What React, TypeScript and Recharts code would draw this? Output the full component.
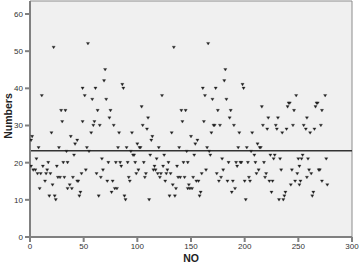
import React from "react";
import { ScatterChart, Scatter, XAxis, YAxis, ReferenceLine, ReferenceArea } from "recharts";

const noValues: number[] = [
  1, 1, 2, 3, 5, 6, 7, 8, 9, 10, 11, 12, 14, 15, 16, 17, 18, 19, 20, 21,
  22, 23, 24, 25, 26, 27, 28, 29, 30, 31, 32, 33, 34, 35, 35, 37, 38, 39, 40, 41,
  42, 44, 44, 45, 46, 47, 48, 49, 49, 51, 52, 53, 54, 55, 57, 58, 59, 60, 61, 62,
  63, 64, 65, 66, 67, 68, 69, 70, 71, 72, 73, 74, 75, 76, 77, 78, 79, 80, 81, 82,
  83, 84, 85, 86, 87, 88, 89, 90, 91, 92, 93, 94, 95, 96, 97, 98, 99, 100, 101, 102,
  103, 104, 105, 106, 107, 108, 109, 110, 111, 112, 113, 114, 115, 116, 117, 118, 119, 120, 121, 122,
  123, 124, 125, 126, 127, 128, 129, 130, 131, 132, 133, 134, 135, 136, 137, 138, 139, 140, 141, 142,
  143, 144, 145, 146, 147, 147, 148, 149, 150, 151, 152, 153, 154, 155, 156, 157, 158, 159, 160, 161,
  162, 163, 164, 165, 166, 167, 168, 169, 170, 171, 172, 173, 174, 175, 176, 177, 178, 179, 180, 181,
  182, 183, 184, 185, 186, 187, 188, 189, 190, 191, 192, 193, 194, 195, 196, 197, 198, 199, 200, 201,
  202, 203, 204, 205, 206, 207, 209, 210, 211, 212, 213, 214, 215, 216, 217, 218, 219, 220, 221, 222,
  223, 224, 225, 226, 227, 228, 229, 230, 231, 232, 233, 234, 235, 236, 237, 238, 239, 240, 241, 242,
  243, 244, 245, 246, 247, 248, 249, 250, 251, 251, 252, 253, 254, 255, 257, 258, 258, 259, 260, 261,
  262, 263, 264, 265, 266, 267, 268, 269, 270, 271, 272, 272, 275, 276, 277,
];

const numberValues: number[] = [
  26, 19, 27, 18, 18, 21, 17, 24, 13, 17, 38, 19, 15, 17, 18, 20, 11, 17, 28, 14,
  51, 11, 10, 19, 16, 24, 16, 34, 31, 20, 16, 34, 23, 20, 13, 14, 27, 13, 16, 22,
  25, 26, 15, 15, 11, 12, 17, 40, 31, 38, 18, 24, 52, 23, 28, 37, 30, 31, 40, 17,
  34, 11, 30, 16, 21, 18, 42, 45, 37, 15, 20, 32, 34, 12, 15, 30, 13, 20, 13, 24,
  28, 20, 19, 41, 40, 11, 10, 24, 20, 16, 15, 23, 28, 22, 22, 20, 17, 25, 18, 24,
  24, 35, 30, 20, 16, 17, 29, 32, 10, 22, 26, 27, 18, 19, 18, 21, 17, 24, 16, 17,
  38, 19, 22, 15, 17, 18, 20, 11, 17, 28, 14, 51, 11, 13, 19, 16, 24, 16, 34, 31,
  20, 16, 34, 23, 20, 13, 14, 13, 27, 13, 16, 22, 25, 15, 26, 15, 11, 12, 17, 40,
  31, 38, 18, 24, 52, 23, 22, 28, 37, 30, 30, 40, 17, 34, 15, 30, 16, 21, 18, 42,
  45, 37, 15, 20, 32, 34, 12, 15, 30, 13, 20, 19, 24, 28, 20, 20, 41, 40, 15, 10,
  24, 20, 16, 15, 23, 28, 22, 20, 17, 25, 18, 24, 24, 35, 30, 20, 16, 17, 29, 32,
  15, 22, 12, 15, 21, 22, 30, 29, 32, 10, 21, 18, 28, 10, 11, 12, 29, 35, 36, 36,
  14, 18, 30, 34, 15, 38, 17, 21, 14, 19, 15, 21, 22, 30, 29, 32, 16, 21, 18, 28,
  17, 11, 12, 29, 35, 36, 36, 18, 18, 30, 34, 15, 38, 21, 14,
];

const meanValue = 23.2;
const xTicks = [0, 50, 100, 150, 200, 250, 300];
const yTicks = [0, 10, 20, 30, 40, 50, 60];

const data = noValues.map((no, i) => ({ no, value: numberValues[i] }));

const FONT = "'Liberation Sans', Arial, Helvetica, sans-serif";

const Triangle = (props: any) => {
  const { cx, cy } = props;
  if (cx == null || cy == null) return null;
  const w = 1.6;
  const h = 1.3;
  return (
    <path
      d={`M${cx - w},${cy - h}L${cx + w},${cy - h}L${cx},${cy + h}Z`}
      fill="#222"
      stroke="#222"
      strokeWidth={0.3}
    />
  );
};

const XTitle = (props: any) => {
  const vb = props.viewBox || {};
  const x = vb.x + vb.width / 2;
  return (
    <text x={x} y={262} textAnchor="middle" fontFamily={FONT} fontWeight="bold" fontSize={10.5} fill="#222">
      NO
    </text>
  );
};

const YTitle = (props: any) => {
  const vb = props.viewBox || {};
  const y = vb.y + vb.height / 2 - 3;
  const x = 12;
  return (
    <text
      x={x}
      y={y}
      transform={`rotate(-90 ${x} ${y})`}
      textAnchor="middle"
      fontFamily={FONT}
      fontWeight="bold"
      fontSize={10.5}
      fill="#222"
    >
      Numbers
    </text>
  );
};

export default function App() {
  return (
    <div style={{ position: "absolute", left: 0, top: 0, width: 359, height: 265, background: "#fff" }}>
      <ScatterChart width={359} height={265} margin={{ top: 1, right: 7, bottom: 0, left: 0 }}>
        <ReferenceArea
          x1={0}
          x2={300}
          y1={0}
          y2={63.5}
          fill="#f0f0f0"
          fillOpacity={1}
          stroke="#8c8c8c"
          strokeWidth={1}
        />
        <XAxis
          type="number"
          dataKey="no"
          domain={[0, 300]}
          ticks={xTicks}
          height={28}
          tickSize={5}
          tickMargin={1}
          stroke="#808080"
          strokeWidth={2}
          tick={{ fontSize: 8, fill: "#333", fontFamily: FONT }}
          label={<XTitle />}
          allowDataOverflow
        />
        <YAxis
          type="number"
          dataKey="value"
          domain={[0, 63.5]}
          ticks={yTicks}
          width={30}
          tickSize={5}
          tickMargin={2}
          stroke="#808080"
          strokeWidth={2}
          tick={{ fontSize: 8, fill: "#333", fontFamily: FONT }}
          label={<YTitle />}
          allowDataOverflow
        />
        <ReferenceLine y={meanValue} stroke="#333" strokeWidth={1.5} />
        <Scatter data={data} shape={<Triangle />} isAnimationActive={false} />
      </ScatterChart>
    </div>
  );
}
